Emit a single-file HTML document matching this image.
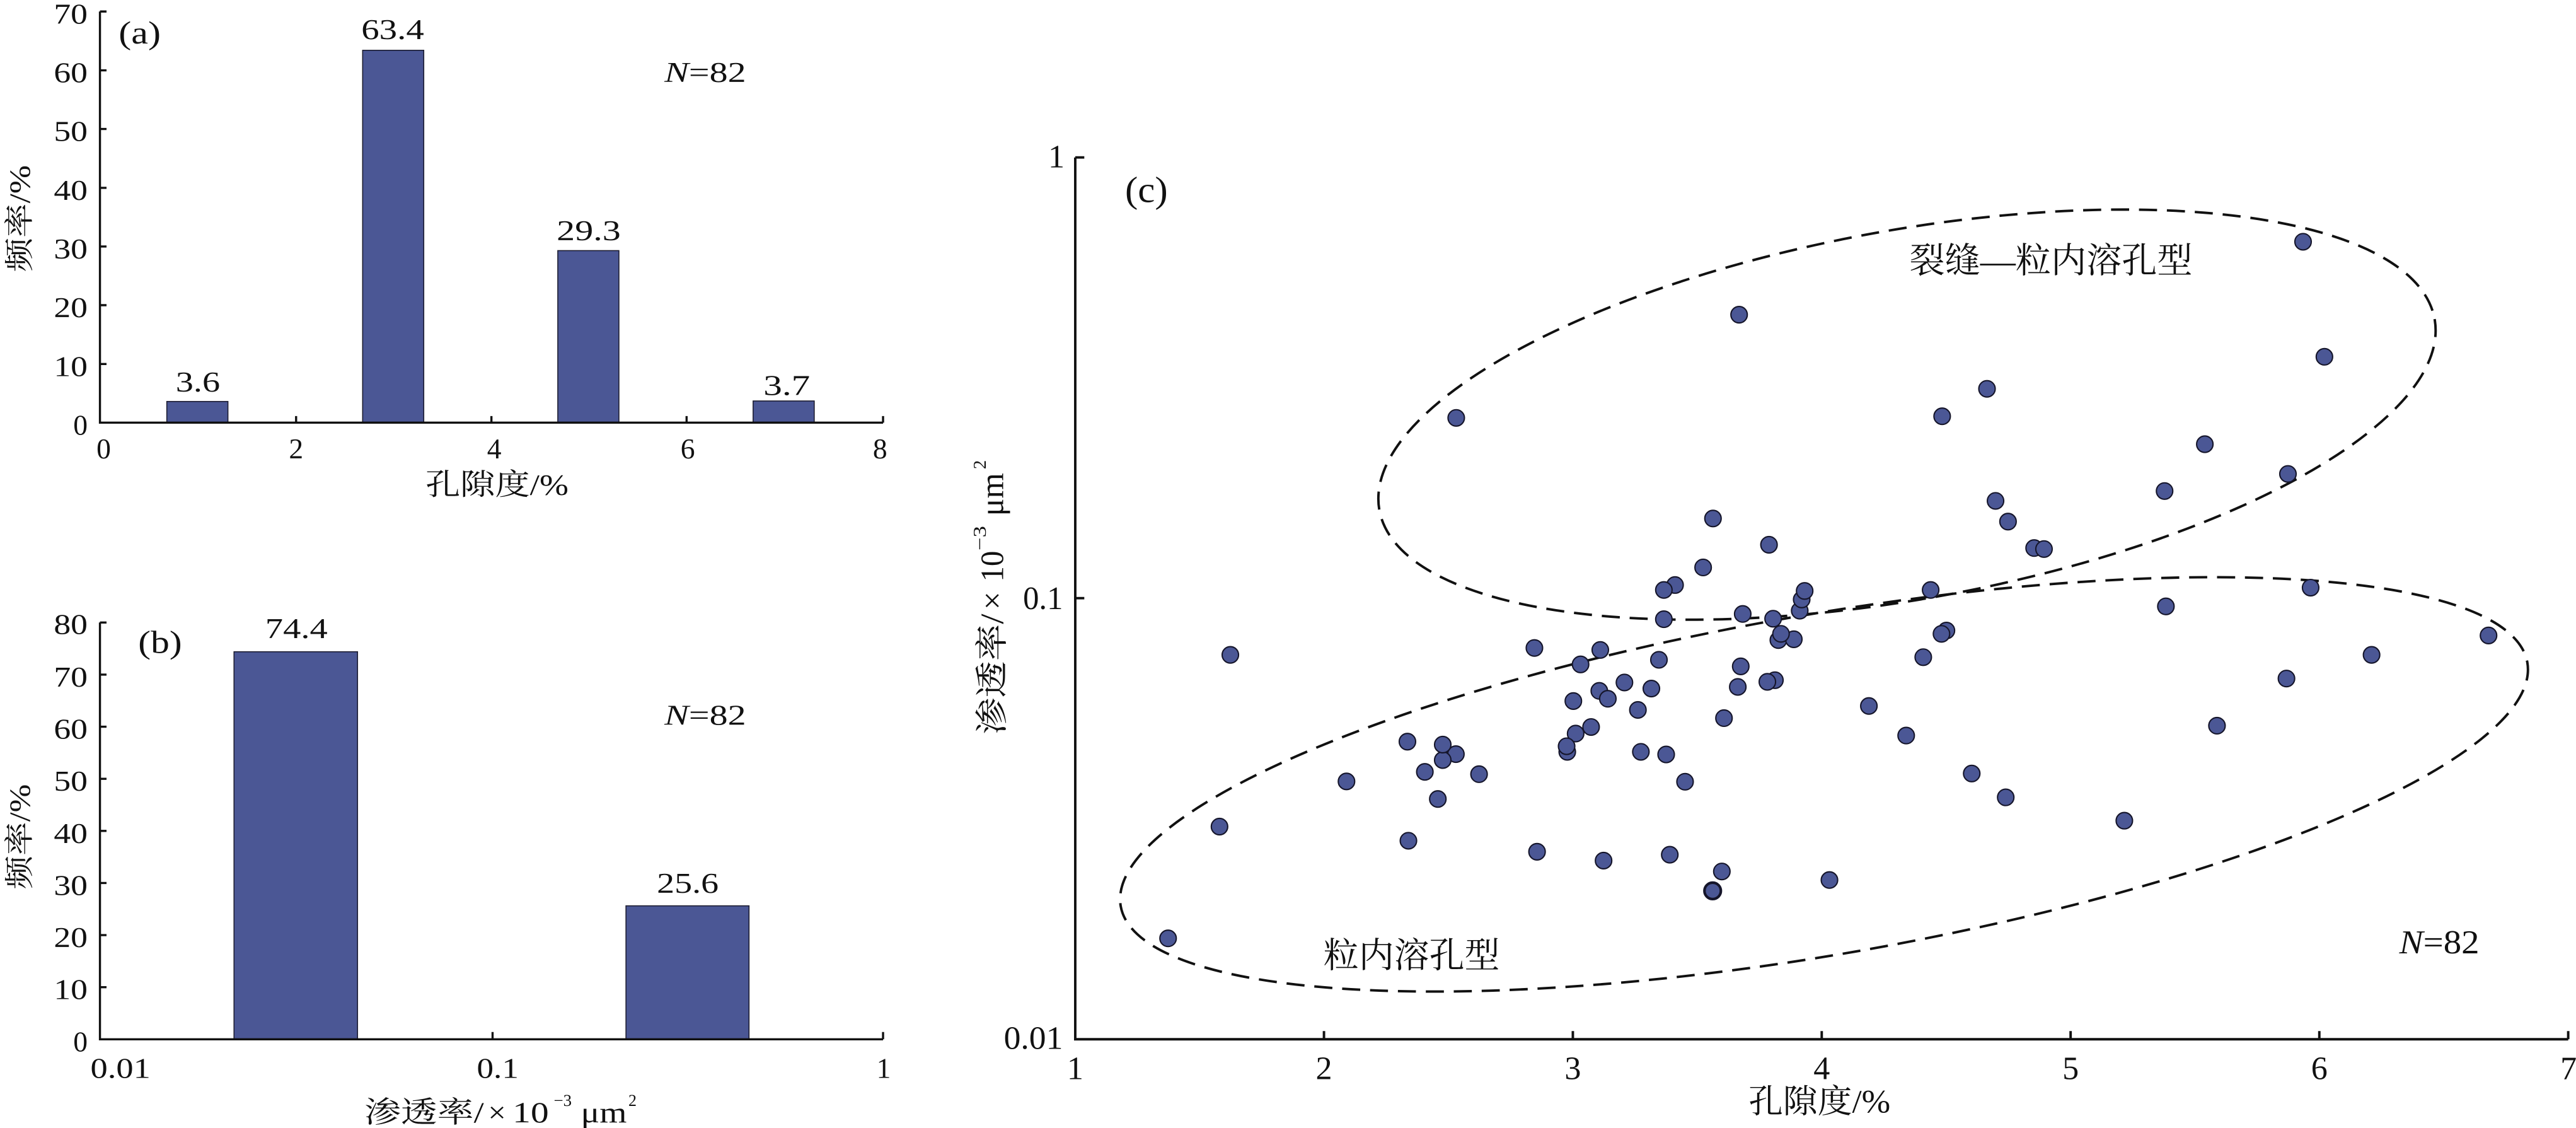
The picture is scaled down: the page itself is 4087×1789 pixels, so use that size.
<!DOCTYPE html>
<html><head><meta charset="utf-8">
<style>
html,body{margin:0;padding:0;background:#fff;overflow:hidden}
svg{display:block}
text{font-family:"Liberation Serif","Noto Serif CJK SC",serif;fill:#111}
</style></head>
<body>
<svg xmlns="http://www.w3.org/2000/svg" width="4087" height="1789" viewBox="0 0 1568 686.4">
<rect x="0" y="0" width="1568" height="686.4" fill="#fff"/>

<!-- Panel (a) -->
<g fill="#4b5795" stroke="#1a1a2e" stroke-width="0.6">
  <rect x="101.5" y="244.3" width="37.2" height="12.9"/>
  <rect x="220.7" y="30.6" width="37.2" height="226.6"/>
  <rect x="339.5" y="152.5" width="37.2" height="104.7"/>
  <rect x="458.4" y="244.0" width="37.2" height="13.2"/>
</g>
<g stroke="#111" stroke-width="1.3" fill="none">
  <path d="M60.8 7 V257.2 H537.5"/>
  <path d="M60.8 7 h4 M60.8 42.8 h4 M60.8 78.5 h4 M60.8 114.3 h4 M60.8 150 h4 M60.8 185.7 h4 M60.8 221.5 h4"/>
  <path d="M180.2 257.2 v-4 M299.1 257.2 v-4 M417.9 257.2 v-4 M537.5 257.2 v-4"/>
</g>
<g font-size="17.5" text-anchor="end">
  <text x="53.3" y="14.3" textLength="20.6" lengthAdjust="spacingAndGlyphs">70</text>
  <text x="53.3" y="50.1" textLength="20.6" lengthAdjust="spacingAndGlyphs">60</text>
  <text x="53.3" y="85.8" textLength="20.6" lengthAdjust="spacingAndGlyphs">50</text>
  <text x="53.3" y="121.6" textLength="20.6" lengthAdjust="spacingAndGlyphs">40</text>
  <text x="53.3" y="157.3" textLength="20.6" lengthAdjust="spacingAndGlyphs">30</text>
  <text x="53.3" y="193.0" textLength="20.6" lengthAdjust="spacingAndGlyphs">20</text>
  <text x="53.3" y="228.8" textLength="20.6" lengthAdjust="spacingAndGlyphs">10</text>
  <text x="53.3" y="264.5">0</text>
</g>
<g font-size="17.5" text-anchor="middle">
  <text x="63.1" y="278.9">0</text>
  <text x="180.2" y="278.9">2</text>
  <text x="300.8" y="278.9">4</text>
  <text x="418.6" y="278.9">6</text>
  <text x="535.7" y="278.9">8</text>
</g>
<g font-size="17.5">
  <text x="106.9" y="238.2" textLength="27" lengthAdjust="spacingAndGlyphs">3.6</text>
  <text x="219.9" y="23.8" textLength="38.2" lengthAdjust="spacingAndGlyphs">63.4</text>
  <text x="338.8" y="146.1" textLength="39" lengthAdjust="spacingAndGlyphs">29.3</text>
  <text x="464.7" y="240.4" textLength="28.4" lengthAdjust="spacingAndGlyphs">3.7</text>
  <text x="72.2" y="26.5" font-size="19.5" textLength="25.6" lengthAdjust="spacingAndGlyphs">(a)</text>
  <text x="404.4" y="49.8" textLength="49.7" lengthAdjust="spacingAndGlyphs"><tspan font-style="italic">N</tspan>=82</text>
</g>
<text x="259" y="301" font-size="18" textLength="87" lengthAdjust="spacingAndGlyphs">孔隙度/%</text>
<text font-size="18" transform="translate(18,133) rotate(-90)" text-anchor="middle" textLength="65" lengthAdjust="spacingAndGlyphs">频率/%</text>

<!-- Panel (b) -->
<g fill="#4b5795" stroke="#1a1a2e" stroke-width="0.6">
  <rect x="142.4" y="396.6" width="75.2" height="235.8"/>
  <rect x="381.0" y="551.2" width="74.9" height="81.2"/>
</g>
<g stroke="#111" stroke-width="1.3" fill="none">
  <path d="M60.8 378.8 V632.4 H537.5"/>
  <path d="M60.8 378.8 h4 M60.8 410.5 h4 M60.8 442.2 h4 M60.8 473.9 h4 M60.8 505.6 h4 M60.8 537.3 h4 M60.8 569 h4 M60.8 600.7 h4"/>
  <path d="M299.8 632.4 v-4.4 M537.5 632.4 v-4.4"/>
</g>
<g font-size="17.5" text-anchor="end">
  <text x="53.3" y="385.8" textLength="20.6" lengthAdjust="spacingAndGlyphs">80</text>
  <text x="53.3" y="417.8" textLength="20.6" lengthAdjust="spacingAndGlyphs">70</text>
  <text x="53.3" y="449.5" textLength="20.6" lengthAdjust="spacingAndGlyphs">60</text>
  <text x="53.3" y="481.2" textLength="20.6" lengthAdjust="spacingAndGlyphs">50</text>
  <text x="53.3" y="512.9" textLength="20.6" lengthAdjust="spacingAndGlyphs">40</text>
  <text x="53.3" y="544.6" textLength="20.6" lengthAdjust="spacingAndGlyphs">30</text>
  <text x="53.3" y="576.3" textLength="20.6" lengthAdjust="spacingAndGlyphs">20</text>
  <text x="53.3" y="608.0" textLength="20.6" lengthAdjust="spacingAndGlyphs">10</text>
  <text x="53.3" y="639.7">0</text>
</g>
<g font-size="17.5">
  <text x="55" y="655.9" textLength="36.6" lengthAdjust="spacingAndGlyphs">0.01</text>
  <text x="290.2" y="655.9" textLength="25.5" lengthAdjust="spacingAndGlyphs">0.1</text>
  <text x="533.5" y="655.9">1</text>
  <text x="161.4" y="388.2" textLength="38" lengthAdjust="spacingAndGlyphs">74.4</text>
  <text x="399.8" y="543.3" textLength="37.6" lengthAdjust="spacingAndGlyphs">25.6</text>
  <text x="84.1" y="397.3" font-size="19.5" textLength="26.6" lengthAdjust="spacingAndGlyphs">(b)</text>
  <text x="404.4" y="441.0" textLength="49.7" lengthAdjust="spacingAndGlyphs"><tspan font-style="italic">N</tspan>=82</text>
</g>
<g font-size="18">
  <text x="221.7" y="683" textLength="72.8" lengthAdjust="spacingAndGlyphs">渗透率/</text>
  <text x="297" y="683" textLength="11" lengthAdjust="spacingAndGlyphs">×</text>
  <text x="312" y="683" textLength="22" lengthAdjust="spacingAndGlyphs">10</text>
  <text x="337" y="673" font-size="10" textLength="11" lengthAdjust="spacingAndGlyphs">−3</text>
  <text x="353.5" y="683" textLength="28" lengthAdjust="spacingAndGlyphs">μm</text>
  <text x="382.5" y="673" font-size="10">2</text>
</g>
<text font-size="18" transform="translate(18,509.2) rotate(-90)" text-anchor="middle" textLength="64" lengthAdjust="spacingAndGlyphs">频率/%</text>

<!-- Panel (c) -->
<g fill="none" stroke="#111" stroke-width="1.5" stroke-dasharray="11 6">
  <ellipse cx="1160.8" cy="252.3" rx="326.4" ry="112.2" transform="rotate(-10.26 1160.8 252.3)"/>
  <ellipse cx="1110.3" cy="477.3" rx="434.5" ry="103.5" transform="rotate(-9.82 1110.3 477.3)"/>
</g>
<g stroke="#111" stroke-width="1.5" fill="none">
  <path d="M654.5 95.8 V632.4 H1563.3"/>
  <path d="M654.5 95.8 h5.5 M654.5 364 h5.5"/>
  <path d="M805.9 632.4 v-5 M957.4 632.4 v-5 M1108.9 632.4 v-5 M1260.4 632.4 v-5 M1411.8 632.4 v-5 M1563.3 632.4 v-5"/>
</g>
<g fill="#4b5795" stroke="#15152a" stroke-width="0.8">
  <circle cx="886.4" cy="254.3" r="5"/>
  <circle cx="1058.6" cy="191.5" r="5"/>
  <circle cx="1209.5" cy="236.6" r="5"/>
  <circle cx="1182.2" cy="253.3" r="5"/>
  <circle cx="1214.7" cy="304.8" r="5"/>
  <circle cx="1222.3" cy="317.4" r="5"/>
  <circle cx="1238.2" cy="333.5" r="5"/>
  <circle cx="1244.2" cy="334.1" r="5"/>
  <circle cx="1042.7" cy="315.5" r="5"/>
  <circle cx="1076.8" cy="331.5" r="5"/>
  <circle cx="1036.7" cy="345.3" r="5"/>
  <circle cx="1019.6" cy="356.0" r="5"/>
  <circle cx="1012.8" cy="359.0" r="5"/>
  <circle cx="1095.5" cy="371.6" r="5"/>
  <circle cx="1096.7" cy="364.8" r="5"/>
  <circle cx="1098.5" cy="359.6" r="5"/>
  <circle cx="1175.2" cy="359.0" r="5"/>
  <circle cx="1012.8" cy="376.8" r="5"/>
  <circle cx="1060.8" cy="373.6" r="5"/>
  <circle cx="1079.3" cy="376.5" r="5"/>
  <circle cx="1082.5" cy="389.5" r="5"/>
  <circle cx="1091.9" cy="389.0" r="5"/>
  <circle cx="1084.1" cy="385.7" r="5"/>
  <circle cx="1184.8" cy="383.7" r="5"/>
  <circle cx="1181.8" cy="385.7" r="5"/>
  <circle cx="1401.9" cy="147.1" r="5"/>
  <circle cx="1414.9" cy="217.1" r="5"/>
  <circle cx="1342.1" cy="270.3" r="5"/>
  <circle cx="1392.7" cy="288.4" r="5"/>
  <circle cx="1317.6" cy="298.8" r="5"/>
  <circle cx="1406.5" cy="357.6" r="5"/>
  <circle cx="1318.4" cy="369.0" r="5"/>
  <circle cx="1514.8" cy="386.7" r="5"/>
  <circle cx="748.9" cy="398.5" r="5"/>
  <circle cx="934.0" cy="394.3" r="5"/>
  <circle cx="856.7" cy="451.3" r="5"/>
  <circle cx="886.2" cy="458.9" r="5"/>
  <circle cx="878.2" cy="462.5" r="5"/>
  <circle cx="878.2" cy="453.1" r="5"/>
  <circle cx="867.3" cy="469.7" r="5"/>
  <circle cx="900.3" cy="471.1" r="5"/>
  <circle cx="819.6" cy="475.5" r="5"/>
  <circle cx="875.2" cy="486.2" r="5"/>
  <circle cx="742.3" cy="503.0" r="5"/>
  <circle cx="857.3" cy="511.6" r="5"/>
  <circle cx="935.6" cy="518.3" r="5"/>
  <circle cx="711.0" cy="571.0" r="5"/>
  <circle cx="1170.7" cy="399.9" r="5"/>
  <circle cx="974.1" cy="395.5" r="5"/>
  <circle cx="962.1" cy="404.3" r="5"/>
  <circle cx="1009.8" cy="401.5" r="5"/>
  <circle cx="1059.6" cy="405.5" r="5"/>
  <circle cx="1057.8" cy="418.0" r="5"/>
  <circle cx="1080.4" cy="413.9" r="5"/>
  <circle cx="1075.8" cy="414.9" r="5"/>
  <circle cx="988.8" cy="415.3" r="5"/>
  <circle cx="973.5" cy="420.4" r="5"/>
  <circle cx="978.7" cy="425.2" r="5"/>
  <circle cx="1005.2" cy="419.0" r="5"/>
  <circle cx="957.7" cy="426.6" r="5"/>
  <circle cx="997.0" cy="432.0" r="5"/>
  <circle cx="1137.6" cy="429.6" r="5"/>
  <circle cx="1049.4" cy="437.0" r="5"/>
  <circle cx="968.5" cy="442.4" r="5"/>
  <circle cx="959.1" cy="446.4" r="5"/>
  <circle cx="954.0" cy="457.5" r="5"/>
  <circle cx="953.6" cy="454.1" r="5"/>
  <circle cx="998.8" cy="457.5" r="5"/>
  <circle cx="1014.2" cy="459.1" r="5"/>
  <circle cx="1160.3" cy="447.6" r="5"/>
  <circle cx="1025.7" cy="475.7" r="5"/>
  <circle cx="1200.2" cy="470.7" r="5"/>
  <circle cx="1220.9" cy="485.2" r="5"/>
  <circle cx="976.1" cy="523.7" r="5"/>
  <circle cx="1016.4" cy="520.1" r="5"/>
  <circle cx="1048.1" cy="530.3" r="5"/>
  <circle cx="1042.5" cy="542.1" r="5" stroke-width="1.6"/>
  <circle cx="1113.6" cy="535.5" r="5"/>
  <circle cx="1443.6" cy="398.5" r="5"/>
  <circle cx="1391.8" cy="412.9" r="5"/>
  <circle cx="1349.5" cy="441.6" r="5"/>
  <circle cx="1293.1" cy="499.4" r="5"/>
</g>
<g font-size="20">
  <text x="648" y="101.8" text-anchor="end">1</text>
  <text x="647" y="370.6" text-anchor="end" textLength="24.3" lengthAdjust="spacingAndGlyphs">0.1</text>
  <text x="647" y="638.2" text-anchor="end" textLength="36" lengthAdjust="spacingAndGlyphs">0.01</text>
  <text x="654.5" y="656.7" text-anchor="middle">1</text>
  <text x="805.9" y="656.7" text-anchor="middle">2</text>
  <text x="957.4" y="656.7" text-anchor="middle">3</text>
  <text x="1108.9" y="656.7" text-anchor="middle">4</text>
  <text x="1260.4" y="656.7" text-anchor="middle">5</text>
  <text x="1411.8" y="656.7" text-anchor="middle">6</text>
  <text x="1563.5" y="656.7" text-anchor="middle">7</text>
  <text x="684.8" y="122.9" font-size="22.5" textLength="26" lengthAdjust="spacingAndGlyphs">(c)</text>
  <text x="1460.5" y="580.1" font-size="20.5" textLength="48.7" lengthAdjust="spacingAndGlyphs"><tspan font-style="italic">N</tspan>=82</text>
</g>
<text x="1162.3" y="166" font-size="21.5" textLength="172.3" lengthAdjust="spacingAndGlyphs">裂缝—粒内溶孔型</text>
<text x="805.6" y="588.8" font-size="21.5" textLength="107.3" lengthAdjust="spacingAndGlyphs">粒内溶孔型</text>
<text x="1064.4" y="677" font-size="20" textLength="86.3" lengthAdjust="spacingAndGlyphs">孔隙度/%</text>
<g transform="translate(610.5,364) rotate(-90)" font-size="20">
  <text x="-83" y="0" textLength="73.5" lengthAdjust="spacingAndGlyphs">渗透率/</text>
  <text x="-7" y="0" textLength="11" lengthAdjust="spacingAndGlyphs">×</text>
  <text x="10" y="0" textLength="18.8" lengthAdjust="spacingAndGlyphs">10</text>
  <text x="29" y="-10.5" font-size="11" textLength="15" lengthAdjust="spacingAndGlyphs">−3</text>
  <text x="50" y="0" textLength="26.2" lengthAdjust="spacingAndGlyphs">μm</text>
  <text x="78.5" y="-10.5" font-size="11">2</text>
</g>
</svg>
</body></html>
